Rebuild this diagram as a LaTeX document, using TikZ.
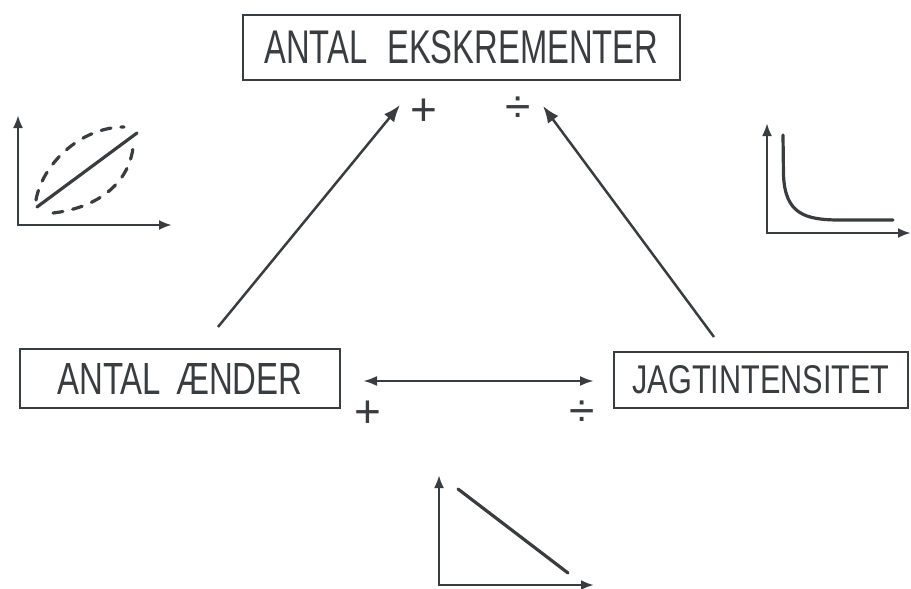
\documentclass[tikz,border=0pt]{standalone}
\usepackage{fontspec}
\setmainfont{Liberation Sans}
\usetikzlibrary{arrows.meta}
\definecolor{ink}{RGB}{58,61,64}
\tikzset{
  box/.style={draw=ink, line width=1.8pt, inner sep=0pt, text=ink},
  sign/.style={inner sep=0pt, text=ink, font=\fontsize{46}{46}\selectfont},
  link/.style={draw=ink, line width=2.5pt, -{Latex[length=17pt,width=13pt]}},
  twoway/.style={draw=ink, line width=2.5pt, {Latex[length=14pt,width=10pt]}-{Latex[length=14pt,width=10pt]}},
  axis/.style={draw=ink, line width=2.8pt, -{Latex[length=13pt,width=10pt]}},
  curve/.style={draw=ink, line width=3.2pt, line cap=round},
}
\begin{document}
\begin{tikzpicture}[x=1pt,y=-1pt]
\useasboundingbox (0,0) rectangle (911,589);

% boxes
\node[box, minimum width=437pt, minimum height=65pt] (top) at (461.5,47.5)
  {\resizebox{394pt}{33pt}{ANTAL\hspace{0.6em}EKSKREMENTER}};
\node[box, minimum width=320pt, minimum height=59pt] (ducks) at (180,378.5)
  {\resizebox{245pt}{31pt}{ANTAL\hspace{0.45em}ÆNDER}};
\node[box, minimum width=294pt, minimum height=56pt] (hunt) at (761,380)
  {\resizebox{257pt}{28pt}{JAGTINTENSITET}};

% connectors
\coordinate (dstart) at (218,327);
\coordinate (dend) at (400,105);
\coordinate (hstart) at (714,337);
\coordinate (hend) at (543,106);
\coordinate (aleft) at (363,381);
\coordinate (aright) at (594,381);
\draw[link] (dstart) -- (dend);
\draw[link] (hstart) -- (hend);
\draw[twoway] (aleft) -- (aright);

% signs
\node[sign] (p1) at (424,112) {+};
\node[sign] (m1) at (518,110) {÷};
\node[sign] (p2) at (368,414) {+};
\node[sign] (m2) at (582,414) {÷};

% top-left graph
\draw[axis] (18,225) -- (18,115);
\draw[axis] (16.6,225) -- (172,225);
\draw[curve] (37,207) -- (137,133);
\draw[curve, dash pattern=on 10pt off 10pt] (36,200) .. controls (42,165) and (80,127) .. (124,127);
\draw[curve, dash pattern=on 10pt off 10pt] (53,213) .. controls (96,208) and (128,185) .. (133,148);

% top-right graph
\draw[axis] (767,233) -- (767,123);
\draw[axis] (765.6,233) -- (911,233);
\draw[curve] (783,135) -- (783.5,175) .. controls (785,214) and (805,220) .. (840,220) -- (893,220);

% bottom graph
\draw[axis] (439,585) -- (439,475);
\draw[axis] (437.6,585) -- (594,585);
\draw[curve] (458,489) -- (568,573);
\end{tikzpicture}
\end{document}
